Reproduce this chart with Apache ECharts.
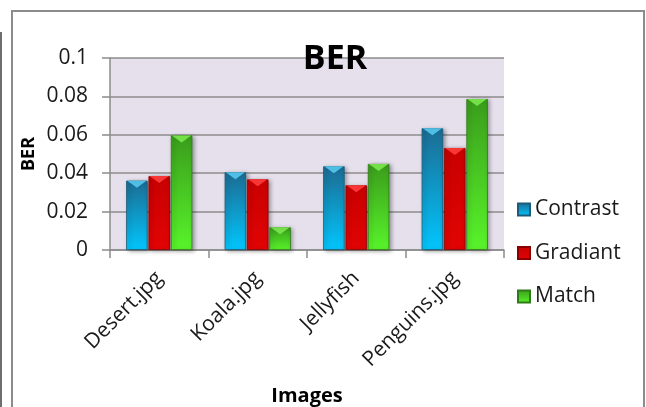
<!DOCTYPE html>
<html><head><meta charset="utf-8">
<script src="https://cdn.jsdelivr.net/npm/echarts@6/dist/echarts.min.js"></script>
<style>html,body{margin:0;padding:0;background:#fff;}#c{width:646px;height:407px;}</style>
</head><body><div id="c"></div>
<script>
const categories = ['Desert.jpg', 'Koala.jpg', 'Jellyfish', 'Penguins.jpg'];
const seriesNames = ['Contrast', 'Gradiant', 'Match'];
const contrast = [0.0361, 0.0405, 0.0436, 0.0634];
const gradiant = [0.0385, 0.0368, 0.0337, 0.0531];
const match = [0.0597, 0.0118, 0.0448, 0.0786];
const yTicks = [0, 0.02, 0.04, 0.06, 0.08, 0.1];

const FONT = 'Open Sans';
const grad = (a, b) => new echarts.graphic.LinearGradient(0, 0, 0, 1, [{offset: 0, color: a}, {offset: 1, color: b}]);
const palettes = [
  {body: grad('#1c6b92', '#02c6fd'), top: '#55c8ee', border: '#1b5a78'},
  {body: grad('#c80000', '#e20404'), top: '#ff3c3c', border: '#8a0000'},
  {body: grad('#3a9c1c', '#58f42a'), top: '#7be84e', border: '#2e7a16'}
];
const values = [contrast, gradiant, match];
const BW = 21.5, GAP = '4%';

const series = [];
values.forEach((v, i) => {
  series.push({
    name: seriesNames[i], type: 'bar', data: v, barWidth: BW, barGap: GAP,
    itemStyle: {color: palettes[i].body, borderColor: palettes[i].border, borderWidth: 0.8,
      shadowColor: 'rgba(0,0,0,0.35)', shadowBlur: 4, shadowOffsetX: 2, shadowOffsetY: 1},
    z: 2
  });
});
values.forEach((v, i) => {
  series.push({
    name: seriesNames[i] + '_cap', type: 'pictorialBar', data: v, barWidth: BW, barGap: GAP,
    symbol: 'path://M0,0 L10,0 L5,4 Z', symbolSize: [BW - 2, 7], symbolPosition: 'end',
    symbolOffset: [0, 0],
    itemStyle: {color: palettes[i].top, opacity: 0.9}, z: 3, silent: true
  });
});

const chart = echarts.init(document.getElementById('c'), null, {renderer: 'canvas'});
chart.setOption({
  animation: false,
  backgroundColor: '#ffffff',
  title: {text: 'BER', left: 330, top: 37, textAlign: 'center',
    textStyle: {fontFamily: FONT, fontWeight: 'bold', fontSize: 34, color: '#000'}},
  grid: {left: 110, top: 58, right: 142, bottom: 157, show: true, backgroundColor: '#e5e0ec', borderWidth: 0},
  legend: {orient: 'vertical', left: 512, top: 194, itemWidth: 12, itemHeight: 12, itemGap: 22.5,
    data: seriesNames.map(n => ({name: n, icon: 'rect'})),
    textStyle: {fontFamily: FONT, fontSize: 21, color: '#1a1a1a'}},
  xAxis: {type: 'category', data: categories, name: 'Images', nameLocation: 'middle', nameGap: 136,
    nameMoveOverlap: false,
    nameTextStyle: {fontFamily: FONT, fontWeight: 'bold', fontSize: 20, color: '#000'},
    axisLine: {lineStyle: {color: '#8c8c8c', width: 1.5}},
    axisTick: {show: true, length: 8, lineStyle: {color: '#8c8c8c', width: 1.5}},
    axisLabel: {rotate: 45, margin: 25, interval: 0, fontFamily: FONT, fontSize: 21, color: '#1a1a1a'}},
  yAxis: {type: 'value', min: 0, max: 0.1, interval: 0.02, name: 'BER', nameLocation: 'middle', nameGap: 72,
    nameMoveOverlap: false,
    nameTextStyle: {fontFamily: FONT, fontWeight: 'bold', fontSize: 18, color: '#000'},
    axisLine: {show: true, lineStyle: {color: '#8c8c8c', width: 1.5}},
    axisTick: {show: true, length: 8, lineStyle: {color: '#8c8c8c', width: 1.5}},
    splitLine: {lineStyle: {color: '#8c8c8c', width: 1.5}},
    axisLabel: {margin: 22, fontFamily: FONT, fontSize: 21, color: '#1a1a1a',
      formatter: v => { const t = yTicks.find(x => Math.abs(x - v) < 1e-9); return t === undefined ? '' : String(t); }}},
  graphic: [
    {type: 'rect', shape: {x: 12, y: 11, width: 632, height: 420}, style: {fill: 'none', stroke: '#8c8c8c', lineWidth: 2}, z: -1, silent: true},
    {type: 'line', shape: {x1: 1, y1: 32, x2: 1, y2: 407}, style: {stroke: '#6e6e6e', lineWidth: 2}, silent: true}
  ],
  series: series
});
</script></body></html>
